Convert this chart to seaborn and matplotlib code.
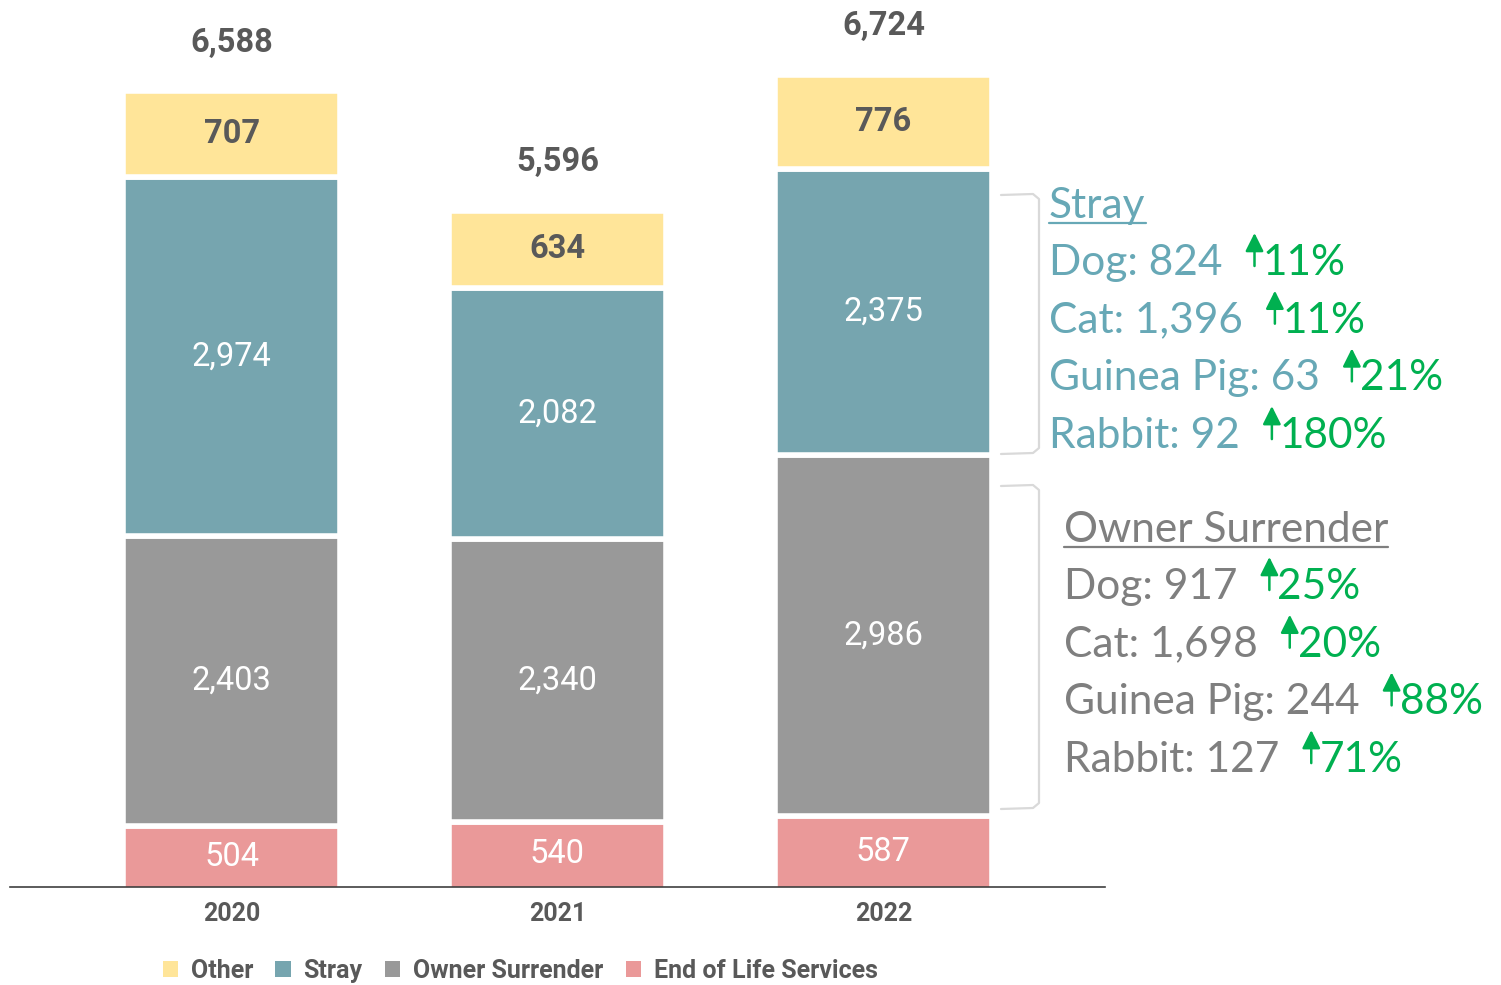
import matplotlib
matplotlib.use("Agg")
import matplotlib.pyplot as plt
import seaborn as sns
from matplotlib.patches import Patch
from matplotlib.lines import Line2D
from matplotlib.transforms import IdentityTransform

# data
years = ["2020", "2021", "2022"]
end_of_life = [504, 540, 587]
owner_surrender = [2403, 2340, 2986]
stray = [2974, 2082, 2375]
other = [707, 634, 776]

series_names = ["End of Life Services", "Owner Surrender", "Stray", "Other"]
series_colors = ["#EA9999", "#999999", "#76A5AF", "#FFE599"]

animals = ["Dog", "Cat", "Guinea Pig", "Rabbit"]
stray_2022 = [824, 1396, 63, 92]
stray_change = [11, 11, 21, 180]
owner_2022 = [917, 1698, 244, 127]
owner_change = [25, 20, 88, 71]

DARK = "#595959"
GREEN = "#00B050"

sns.set_theme(style="white")
plt.rcParams["font.family"] = ["Roboto", "DejaVu Sans"]

W, H = 1501, 985
fig = plt.figure(figsize=(W / 100, H / 100), dpi=100)
ax = fig.add_axes([10 / W, 98 / H, 1095 / W, 887 / H])

# stacked bars, bottom to top
layers = [end_of_life, owner_surrender, stray, other]
bottom = [0, 0, 0]
for vals, name, col in zip(layers, series_names, series_colors):
    sns.barplot(x=years, y=vals, bottom=bottom, color=col, saturation=1,
                width=0.667, edgecolor="white", linewidth=4, errorbar=None, ax=ax)
    if name == "Other":
        ax.bar_label(ax.containers[-1], labels=[f"{v:,}" for v in vals], label_type="center",
                     color=DARK, fontsize=23.5, fontweight="bold")
    else:
        ax.bar_label(ax.containers[-1], labels=[f"{v:,}" for v in vals], label_type="center",
                     color="white", fontsize=23.5)
    bottom = [b + v for b, v in zip(bottom, vals)]

# bottom segment reaches the axis line
for bar in ax.containers[0]:
    bar.set_y(-30)
    bar.set_height(bar.get_height() + 30)

# totals above bars
for i, tot in enumerate(bottom):
    ax.annotate(f"{tot:,}", xy=(i, tot), xytext=(0, 28.5), textcoords="offset points",
                ha="center", va="baseline", fontsize=23.5, fontweight="bold", color=DARK,
                annotation_clip=False)

ax.set_xlim(-0.68, 2.68)
ax.set_ylim(0, 7343)
ax.set_yticks([])
ax.set_xlabel("")
ax.set_ylabel("")
sns.despine(ax=ax, left=True)
ax.spines["bottom"].set_color("#404040")
ax.spines["bottom"].set_linewidth(1.2)
ax.spines["bottom"].set_zorder(5)
ax.tick_params(axis="x", length=0, pad=10.5)
for lab in ax.get_xticklabels():
    lab.set_fontsize(18)
    lab.set_fontweight("bold")
    lab.set_color(DARK)

# legend
leg_order = ["Other", "Stray", "Owner Surrender", "End of Life Services"]
leg_colors = dict(zip(series_names, series_colors))
handles = [Patch(facecolor=leg_colors[n], edgecolor="none") for n in leg_order]
fig.legend(handles, leg_order, loc="center", bbox_to_anchor=(520 / W, 1 - 971 / H), ncol=4,
           frameon=False, prop=dict(family="Roboto", weight="bold", size=18),
           handlelength=0.62, handleheight=0.62, handletextpad=0.5, columnspacing=0.9,
           labelcolor=DARK)

# side notes for 2022
fig.canvas.draw()
r = fig.canvas.get_renderer()
idt = IdentityTransform()


def bracket(y0, y1):
    xs = [1001, 1033, 1039, 1039, 1033, 1001]
    ys = [y0 + 1, y0, y0 + 5, y1 - 5, y1, y1 + 1]
    fig.add_artist(Line2D(xs, [H - y for y in ys], transform=idt, color="#D9D9D9", lw=1.6))


def block(title, color, x0, title_base, counts, changes, step=57.7):
    t = fig.text(x0, H - title_base, title, transform=idt, color=color, fontsize=30.5,
                 family="Lato", va="baseline")
    bb = t.get_window_extent(r)
    fig.add_artist(Line2D([bb.x0, bb.x1], [H - title_base - 5] * 2, transform=idt,
                          color=color, lw=1.6))
    for k, (a, c, ch) in enumerate(zip(animals, counts, changes)):
        base = title_base + 57 + k * step
        t = fig.text(x0, H - base, f"{a}: {c:,}", transform=idt, color=color, fontsize=30.5,
                     family="Lato", va="baseline")
        bb = t.get_window_extent(r)
        axx = bb.x1 + 32
        fig.add_artist(plt.Annotation("", xy=(axx, H - base + 42), xytext=(axx, H - base + 9),
                                      xycoords=idt, textcoords=idt,
                                      arrowprops=dict(arrowstyle="-|>,head_length=1.1,head_width=0.55",
                                                      color=GREEN, lw=1.8, shrinkA=0, shrinkB=0,
                                                      mutation_scale=10)))
        fig.text(axx + 8, H - base, f"{ch}%", transform=idt, color=GREEN, fontsize=30.5,
                 family="Lato", va="baseline")


bracket(194, 453)
bracket(485, 808)
block("Stray", "#67A8B6", 1049, 218, stray_2022, stray_change)
block("Owner Surrender", "#7F7F7F", 1064, 542, owner_2022, owner_change)

fig.savefig("out.png", dpi=100)
